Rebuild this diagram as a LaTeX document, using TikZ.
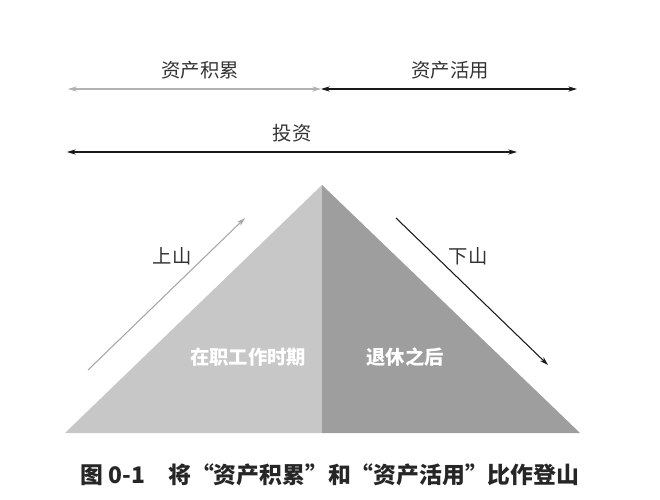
\documentclass[tikz,border=0pt]{standalone}
\usepackage{fontspec}
\setmainfont{Noto Sans CJK SC}
\usetikzlibrary{arrows.meta}
\begin{document}
\begin{tikzpicture}[x=0.02cm,y=-0.02cm,
  lbl/.style={font=\fontsize{11}{13}\selectfont, text=black!80},
  inner/.style={font=\fontsize{11}{13}\selectfont\bfseries, text=white},
  arr/.style={{Stealth[length=5pt,width=3pt]}-{Stealth[length=5pt,width=3pt]}, line width=0.6pt}]
\useasboundingbox (0,0) rectangle (660,500);
\coordinate (apex) at (322,185);
\coordinate (bl) at (65,433);
\coordinate (br) at (580,433);
\coordinate (bm) at (322,433);
\fill[black!22] (apex) -- (bl) -- (bm) -- cycle;
\fill[black!38] (apex) -- (bm) -- (br) -- cycle;
\node[lbl] (acc) at (200,70) {资产积累};
\node[lbl] (use) at (450,70) {资产活用};
\node[lbl] (inv) at (292,133) {投资};
\coordinate (a1) at (68,89); \coordinate (a2) at (321,89); \coordinate (a3) at (577,89);
\draw[arr, black!30] (a1) -- (a2);
\draw[arr, black!90] (a2) -- (a3);
\coordinate (i1) at (67,152); \coordinate (i2) at (517,152);
\draw[arr, black!90] (i1) -- (i2);
\node[lbl] (up) at (172,256) {上山};
\node[lbl] (down) at (468,256) {下山};
\coordinate (u1) at (88,370); \coordinate (u2) at (245,218);
\draw[-{Stealth[length=5pt,width=3pt]}, black!35, line width=0.6pt] (u1) -- (u2);
\coordinate (d1) at (396,218); \coordinate (d2) at (548,365);
\draw[-{Stealth[length=5pt,width=3pt]}, black!90, line width=0.6pt] (d1) -- (d2);
\node[inner] (work) at (248,357) {在职工作时期};
\node[inner] (ret) at (405,357) {退休之后};
\node[font=\fontsize{13}{15}\selectfont\bfseries, text=black!85] (cap) at (330,475) {图 0-1\quad 将“资产积累”和“资产活用”比作登山};
\end{tikzpicture}
\end{document}
